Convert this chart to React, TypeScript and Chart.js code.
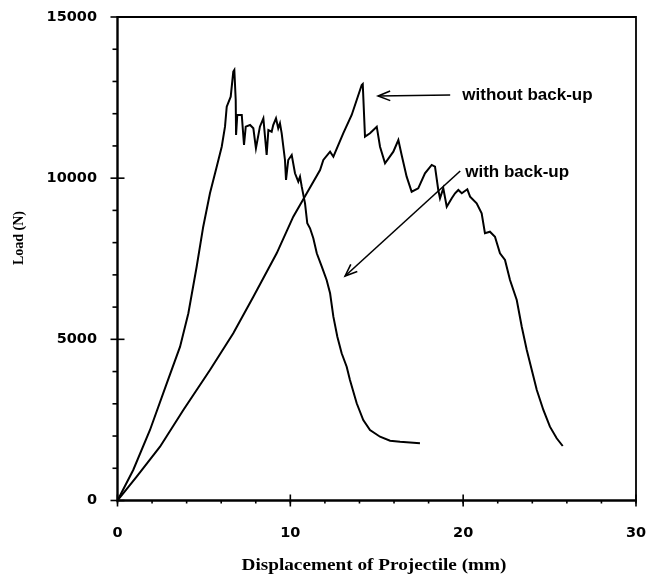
import { useEffect, useRef } from 'react';
import { Chart, registerables } from 'chart.js';

Chart.register(...registerables);

// "with back-up" (stiffer curve, peak near 6.8 mm)
const withBackupX = [0, 0.91, 1.88, 2.85, 3.62, 4.1, 4.58, 4.96, 5.35, 5.74, 6.03, 6.22, 6.32, 6.55, 6.7, 6.76, 6.84, 6.86, 6.93, 7.19, 7.32, 7.42, 7.67, 7.86, 8.01, 8.24, 8.44, 8.63, 8.73, 8.92, 9.01, 9.17, 9.3, 9.4, 9.5, 9.69, 9.75, 9.88, 10.08, 10.27, 10.46, 10.56, 10.66, 10.85, 10.98, 11.14, 11.33, 11.53, 11.82, 12.1, 12.3, 12.49, 12.72, 12.97, 13.26, 13.45, 13.84, 14.22, 14.61, 15.19, 15.77, 16.35, 17.5];
const withBackupY = [0, 946, 2187, 3636, 4772, 5808, 7253, 8494, 9531, 10356, 10976, 11597, 12217, 12527, 13303, 13356, 12425, 11339, 11960, 11960, 11029, 11597, 11649, 11547, 10927, 11597, 11857, 10719, 11494, 11442, 11649, 11857, 11547, 11702, 11392, 10564, 9943, 10564, 10719, 10151, 9891, 10046, 9736, 9220, 8600, 8445, 8135, 7669, 7253, 6841, 6428, 5702, 5082, 4567, 4151, 3738, 3016, 2497, 2187, 1979, 1856, 1824, 1775];

// "without back-up" (peak near 14.2 mm)
const withoutBackupX = [0, 1.11, 2.46, 3.81, 5.35, 6.7, 7.86, 9.21, 10.17, 10.95, 11.72, 11.91, 12.3, 12.49, 13.06, 13.55, 13.84, 14.13, 14.19, 14.32, 14.61, 15.0, 15.19, 15.48, 15.96, 16.25, 16.44, 16.73, 17.02, 17.4, 17.79, 18.18, 18.37, 18.56, 18.66, 18.85, 19.05, 19.34, 19.53, 19.72, 19.92, 20.24, 20.4, 20.78, 21.07, 21.26, 21.55, 21.84, 22.13, 22.42, 22.71, 23.1, 23.39, 23.68, 23.97, 24.26, 24.64, 25.02, 25.41, 25.76];
const withoutBackupY = [0, 738, 1669, 2808, 4049, 5187, 6323, 7669, 8805, 9531, 10253, 10564, 10821, 10666, 11392, 11960, 12425, 12891, 12922, 11287, 11392, 11597, 10976, 10461, 10821, 11184, 10719, 10046, 9580, 9686, 10151, 10409, 10356, 9633, 9375, 9686, 9115, 9375, 9531, 9633, 9531, 9655, 9425, 9220, 8910, 8290, 8339, 8184, 7669, 7461, 6841, 6220, 5392, 4669, 4049, 3428, 2808, 2290, 1930, 1691];

const xTickValues = [0, 10, 20, 30];
const yTickValues = [0, 5000, 10000, 15000];
const xTitle = 'Displacement of Projectile (mm)';
const yTitle = 'Load (N)';

// annotation labels and arrows (data units): [tailX, tailY, tipX, tipY, textX, textY]
const annotationLabels = ['without back-up', 'with back-up'];
const annotationArrows = [
  [19.25, 12581, 15.08, 12550, 19.95, 12581],
  [19.83, 10223, 13.17, 6965, 20.12, 10192],
];

const framePlugin = {
  id: 'framePlugin',
  afterDraw(chart: any) {
    const { ctx, chartArea } = chart;
    const xs = chart.scales.x;
    const ys = chart.scales.y;
    const { left, right, top, bottom } = chartArea;
    ctx.save();
    ctx.strokeStyle = '#000';
    ctx.lineCap = 'butt';
    // top & right borders
    ctx.lineWidth = 1.8;
    ctx.beginPath();
    ctx.moveTo(left, top);
    ctx.lineTo(right, top);
    ctx.lineTo(right, bottom);
    ctx.stroke();
    // left & bottom axes
    ctx.lineWidth = 2.4;
    ctx.beginPath();
    ctx.moveTo(left, top - 1);
    ctx.lineTo(left, bottom);
    ctx.lineTo(right + 1, bottom);
    ctx.stroke();
    // y ticks
    ctx.lineWidth = 1.6;
    for (let v = 0; v <= 15000; v += 1000) {
      const py = ys.getPixelForValue(v);
      const major = v % 5000 === 0;
      ctx.beginPath();
      ctx.moveTo(left - (major ? 7 : 5), py);
      ctx.lineTo(left + (major ? 7 : 0), py);
      ctx.stroke();
    }
    // x ticks
    for (let v = 0; v <= 30; v += 2) {
      const px = xs.getPixelForValue(v);
      ctx.beginPath();
      ctx.moveTo(px, bottom + 3);
      ctx.lineTo(px, bottom);
      ctx.stroke();
    }
    for (let v = 0; v <= 30; v += 10) {
      const px = xs.getPixelForValue(v);
      ctx.beginPath();
      ctx.moveTo(px, bottom + 6);
      ctx.lineTo(px, bottom - 6);
      ctx.stroke();
    }
    // axis titles
    ctx.fillStyle = '#000';
    ctx.font = 'bold 17px "Liberation Serif", serif';
    ctx.textAlign = 'center';
    ctx.textBaseline = 'middle';
    const tw = ctx.measureText(xTitle).width;
    ctx.save();
    ctx.translate(374, 566);
    ctx.scale(265 / tw, 1);
    ctx.fillText(xTitle, 0, 0);
    ctx.restore();
    ctx.save();
    ctx.translate(19, 238);
    ctx.rotate(-Math.PI / 2);
    ctx.font = 'bold 14px "Liberation Serif", serif';
    ctx.fillText(yTitle, 0, 0);
    ctx.restore();
    // annotations
    ctx.lineWidth = 1.6;
    ctx.font = 'bold 17px "Liberation Sans", Arial, sans-serif';
    ctx.textAlign = 'left';
    annotationArrows.forEach((a, i) => {
      const tx = xs.getPixelForValue(a[0]);
      const ty = ys.getPixelForValue(a[1]);
      const hx = xs.getPixelForValue(a[2]);
      const hy = ys.getPixelForValue(a[3]);
      ctx.beginPath();
      ctx.moveTo(tx, ty);
      ctx.lineTo(hx, hy);
      ctx.stroke();
      const ang = Math.atan2(ty - hy, tx - hx);
      const len = 13;
      const spread = 0.38;
      ctx.beginPath();
      ctx.moveTo(hx + len * Math.cos(ang + spread), hy + len * Math.sin(ang + spread));
      ctx.lineTo(hx, hy);
      ctx.lineTo(hx + len * Math.cos(ang - spread), hy + len * Math.sin(ang - spread));
      ctx.stroke();
      ctx.fillText(annotationLabels[i], xs.getPixelForValue(a[4]), ys.getPixelForValue(a[5]));
    });
    ctx.restore();
  },
};

export default function App() {
  const ref = useRef<HTMLCanvasElement | null>(null);
  useEffect(() => {
    document.body.style.margin = '0';
    if (!ref.current) return;
    const mk = (xs: number[], ys: number[]) => xs.map((x, i) => ({ x, y: ys[i] }));
    const tickFont = { family: '"DejaVu Sans", sans-serif', size: 14.5, weight: 'bold' as const };
    const chart = new Chart(ref.current, {
      type: 'line',
      data: {
        datasets: [
          { label: 'with back-up', data: mk(withBackupX, withBackupY), borderColor: '#000', borderWidth: 2, pointRadius: 0, tension: 0, fill: false },
          { label: 'without back-up', data: mk(withoutBackupX, withoutBackupY), borderColor: '#000', borderWidth: 2, pointRadius: 0, tension: 0, fill: false },
        ],
      },
      options: {
        animation: false,
        responsive: false,
        maintainAspectRatio: false,
        layout: { padding: { top: 17, right: 12, left: 0, bottom: 0 } },
        plugins: { legend: { display: false }, tooltip: { enabled: false } },
        scales: {
          x: {
            type: 'linear',
            min: 0,
            max: 30,
            afterBuildTicks: (s: any) => { s.ticks = xTickValues.map((v) => ({ value: v })); },
            afterFit: (s: any) => { s.height = 77.5; s.paddingLeft = 0; s.paddingRight = 0; },
            grid: { display: false },
            border: { display: false },
            ticks: { color: '#000', padding: 16, font: tickFont, callback: (v: any) => String(v) },
          },
          y: {
            type: 'linear',
            min: 0,
            max: 15000,
            afterBuildTicks: (s: any) => { s.ticks = yTickValues.map((v) => ({ value: v })); },
            afterFit: (s: any) => { s.width = 117.5; s.paddingTop = 0; s.paddingBottom = 0; },
            grid: { display: false },
            border: { display: false },
            ticks: { color: '#000', padding: 12.5, font: tickFont, callback: (v: any) => String(v) },
          },
        },
      },
      plugins: [framePlugin],
    });
    return () => chart.destroy();
  }, []);
  return (
    <div style={{ position: 'fixed', left: 0, top: 0, width: 648, height: 578, background: '#fff' }}>
      <canvas ref={ref} width={648} height={578} style={{ width: 648, height: 578, display: 'block' }} />
    </div>
  );
}
